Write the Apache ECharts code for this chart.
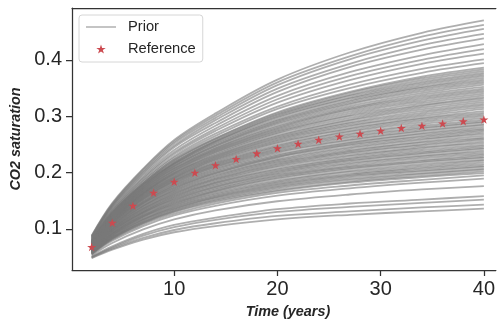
<!DOCTYPE html>
<html>
<head>
<meta charset="utf-8">
<script src="https://cdn.jsdelivr.net/npm/echarts@6/dist/echarts.min.js"></script>
<style>
  html, body { margin: 0; padding: 0; background: #ffffff; }
  #chart { width: 498px; height: 324px; }
</style>
</head>
<body>
<div id="chart"></div>
<script>
// Sample times (years) of the prior ensemble runs
const priorYears = [2, 4, 7, 10, 14, 20, 27, 34, 40];

// CO2 saturation of each prior run at priorYears
const priorRuns = [
  [.088, .146, .207, .258, .305, .365, .413, .448, .470],
  [.087, .144, .205, .255, .301, .360, .406, .441, .462],
  [.086, .143, .202, .252, .297, .355, .401, .434, .455],
  [.085, .141, .200, .248, .293, .349, .393, .426, .446],
  [.084, .140, .197, .245, .288, .343, .387, .418, .438],
  [.083, .138, .194, .240, .283, .336, .378, .408, .428],
  [.082, .136, .191, .236, .278, .330, .371, .400, .419],
  [.081, .134, .189, .233, .274, .324, .364, .393, .411],
  [.080, .132, .186, .229, .269, .317, .356, .384, .401],
  [.079, .131, .184, .226, .265, .313, .350, .377, .394],
  [.079, .129, .181, .223, .261, .307, .343, .370, .386],
  [.078, .129, .181, .222, .260, .305, .341, .367, .383],
  [.078, .128, .180, .220, .258, .303, .338, .364, .380],
  [.077, .128, .179, .218, .256, .301, .336, .361, .377],
  [.077, .127, .178, .217, .255, .299, .333, .358, .374],
  [.077, .126, .177, .216, .254, .297, .331, .355, .371],
  [.076, .126, .176, .215, .252, .294, .328, .352, .368],
  [.076, .125, .175, .214, .250, .292, .326, .350, .365],
  [.076, .125, .174, .212, .248, .290, .323, .347, .362],
  [.075, .124, .173, .211, .247, .288, .321, .344, .359],
  [.075, .123, .172, .210, .245, .286, .318, .341, .356],
  [.074, .122, .171, .208, .243, .283, .315, .338, .352],
  [.074, .122, .170, .207, .242, .281, .313, .335, .349],
  [.074, .121, .169, .206, .240, .279, .311, .332, .346],
  [.074, .121, .168, .204, .239, .277, .308, .329, .343],
  [.073, .120, .167, .203, .237, .275, .305, .326, .340],
  [.073, .120, .166, .202, .236, .273, .302, .323, .337],
  [.072, .119, .165, .200, .234, .271, .300, .320, .334],
  [.072, .118, .164, .199, .232, .269, .297, .318, .331],
  [.072, .117, .163, .198, .230, .266, .294, .315, .328],
  [.072, .117, .163, .197, .229, .264, .292, .312, .325],
  [.071, .116, .162, .195, .227, .262, .289, .309, .322],
  [.071, .116, .161, .194, .226, .260, .287, .306, .319],
  [.070, .115, .160, .192, .224, .258, .284, .303, .316],
  [.070, .115, .159, .191, .223, .256, .282, .300, .313],
  [.069, .114, .158, .190, .221, .254, .279, .297, .309],
  [.069, .114, .157, .189, .219, .252, .277, .295, .306],
  [.069, .113, .156, .187, .217, .249, .274, .292, .303],
  [.069, .112, .155, .186, .216, .247, .272, .289, .300],
  [.068, .111, .154, .185, .214, .245, .269, .286, .297],
  [.068, .111, .153, .184, .213, .243, .267, .283, .294],
  [.067, .110, .152, .182, .211, .241, .264, .280, .291],
  [.067, .110, .151, .181, .210, .239, .262, .278, .289],
  [.067, .109, .149, .179, .208, .237, .259, .275, .286],
  [.067, .108, .148, .178, .206, .235, .257, .273, .284],
  [.066, .107, .147, .176, .204, .232, .254, .270, .281],
  [.066, .106, .146, .175, .202, .230, .252, .268, .278],
  [.065, .105, .145, .173, .200, .228, .250, .265, .276],
  [.065, .105, .144, .172, .199, .227, .248, .263, .274],
  [.065, .104, .142, .170, .197, .224, .245, .260, .271],
  [.065, .103, .141, .169, .195, .222, .243, .258, .268],
  [.064, .102, .140, .167, .193, .220, .240, .255, .265],
  [.064, .101, .139, .166, .191, .218, .238, .253, .262],
  [.063, .100, .137, .164, .189, .216, .236, .250, .260],
  [.063, .100, .136, .163, .188, .214, .234, .248, .258],
  [.063, .099, .135, .161, .186, .212, .231, .245, .255],
  [.063, .098, .134, .160, .184, .210, .229, .243, .252],
  [.062, .097, .132, .158, .182, .207, .226, .240, .249],
  [.062, .097, .131, .157, .181, .205, .224, .237, .247],
  [.061, .096, .130, .155, .179, .203, .222, .235, .244],
  [.061, .095, .129, .154, .177, .201, .220, .233, .242],
  [.061, .094, .128, .152, .175, .199, .217, .230, .239],
  [.061, .093, .127, .151, .174, .197, .215, .228, .236],
  [.060, .092, .125, .149, .172, .195, .212, .225, .233],
  [.060, .092, .124, .148, .170, .193, .210, .222, .231],
  [.059, .091, .123, .146, .168, .191, .208, .220, .228],
  [.059, .090, .122, .145, .167, .189, .206, .218, .226],
  [.059, .089, .121, .143, .165, .186, .203, .215, .223],
  [.059, .089, .120, .142, .163, .184, .201, .212, .221],
  [.058, .088, .118, .140, .161, .182, .198, .209, .218],
  [.058, .087, .117, .139, .159, .180, .196, .207, .215],
  [.057, .086, .116, .137, .157, .178, .194, .204, .212],
  [.057, .085, .115, .136, .156, .176, .192, .202, .210],
  [.057, .084, .113, .134, .154, .174, .189, .199, .207],
  [.057, .084, .112, .133, .152, .172, .187, .197, .205],
  [.056, .083, .111, .131, .150, .169, .184, .194, .202],
  [.056, .082, .110, .130, .148, .167, .182, .192, .199],
  [.055, .081, .108, .127, .145, .164, .177, .187, .195],
  [.055, .079, .105, .124, .141, .159, .172, .182, .189],
  [.053, .075, .099, .117, .133, .149, .161, .170, .176],
  [.051, .069, .091, .107, .120, .135, .145, .152, .158],
  [.050, .067, .088, .103, .116, .130, .139, .146, .152],
  [.049, .065, .084, .098, .110, .123, .131, .138, .143],
  [.048, .063, .081, .094, .105, .117, .125, .131, .136]
];

// Reference case
const refYears = [2, 4, 6, 8, 10, 12, 14, 16, 18, 20, 22, 24, 26, 28, 30, 32, 34, 36, 38, 40];
const refSaturation = [.068, .111, .141, .164, .1835, .1995, .213, .224, .234, .243,
                       .251, .258, .264, .269, .274, .279, .283, .287, .291, .294];

// Tick positions
const xTicks = [10, 20, 30, 40];
const yTicks = [0.1, 0.2, 0.3, 0.4];

const FONT = "'Liberation Sans', Arial, sans-serif";
const INK = '#262626';
const SPINE = '#333333';
const STAR = 'path://M0,-10 L2.245,-3.09 L9.51,-3.09 L3.633,1.18 L5.878,8.09 L0,3.82 L-5.878,8.09 L-3.633,1.18 L-9.51,-3.09 L-2.245,-3.09 Z';
const LEGEND_LINE = 'path://M0,0 L30,0 L30,1.5 L0,1.5 Z';

const priorSeries = priorRuns.map(run => ({
  type: 'line',
  name: 'Prior',
  data: priorYears.map((t, i) => [t, run[i]]),
  smooth: 0.35,
  showSymbol: false,
  symbol: 'none',
  silent: true,
  z: 2,
  itemStyle: { color: '#787878' },
  lineStyle: { color: '#787878', width: 1.8, opacity: 0.6 },
  emphasis: { disabled: true }
}));

const refSeries = {
  type: 'scatter',
  name: 'Reference',
  data: refYears.map((t, i) => [t, refSaturation[i]]),
  symbol: STAR,
  symbolSize: 9,
  symbolKeepAspect: true,
  itemStyle: { color: '#cc4a50', opacity: 1 },
  z: 5
};

const chart = echarts.init(document.getElementById('chart'), null, { renderer: 'canvas' });
chart.setOption({
  animation: false,
  backgroundColor: '#ffffff',
  grid: { left: 72, top: 8, right: 0, bottom: 54, show: false },
  legend: {
    left: 79, top: 15,
    orient: 'vertical',
    padding: [3.5, 7, 4.5, 7],
    itemGap: 5,
    itemWidth: 30,
    itemHeight: 9,
    backgroundColor: 'rgba(255,255,255,0.85)',
    borderColor: '#d6d6d6',
    borderWidth: 1,
    borderRadius: 3,
    textStyle: { fontFamily: FONT, fontSize: 14.7, color: INK, lineHeight: 17, padding: [0, 0, 0, 7] },
    data: [
      { name: 'Prior', icon: LEGEND_LINE, itemStyle: { color: '#b0b0b0' } },
      { name: 'Reference', icon: STAR }
    ],
    selectedMode: false
  },
  xAxis: [{
    type: 'value',
    min: 0.1, max: 41.16,
    name: 'Time (years)',
    nameLocation: 'middle',
    nameGap: 35,
    nameTextStyle: { fontFamily: FONT, fontSize: 14.4, fontWeight: 'bold', fontStyle: 'italic', color: INK,
                     padding: [0, 0, 0, 8] },
    axisLine: { show: true, lineStyle: { color: SPINE, width: 1.25 } },
    axisTick: { show: true, length: 6, lineStyle: { color: SPINE, width: 1.25 }, customValues: xTicks },
    axisLabel: { fontFamily: FONT, fontSize: 20, color: INK, margin: 9, customValues: xTicks },
    splitLine: { show: false }
  }, {
    // top spine
    type: 'value',
    position: 'top',
    min: 0.1, max: 41.16,
    axisLine: { show: true, lineStyle: { color: SPINE, width: 1.25 } },
    axisTick: { show: false },
    axisLabel: { show: false },
    splitLine: { show: false }
  }],
  yAxis: {
    type: 'value',
    min: 0.027, max: 0.492,
    name: 'CO2 saturation',
    nameLocation: 'middle',
    nameGap: 42,
    nameTextStyle: { fontFamily: FONT, fontSize: 14.4, fontWeight: 'bold', fontStyle: 'italic', color: INK },
    axisLine: { show: true, lineStyle: { color: SPINE, width: 1.25 } },
    axisTick: { show: true, length: 6, lineStyle: { color: SPINE, width: 1.25 }, customValues: yTicks },
    axisLabel: {
      fontFamily: FONT, fontSize: 20, color: INK, margin: 10,
      customValues: yTicks,
      formatter: v => v.toFixed(1)
    },
    splitLine: { show: false }
  },
  series: [...priorSeries, refSeries]
});
</script>
</body>
</html>
